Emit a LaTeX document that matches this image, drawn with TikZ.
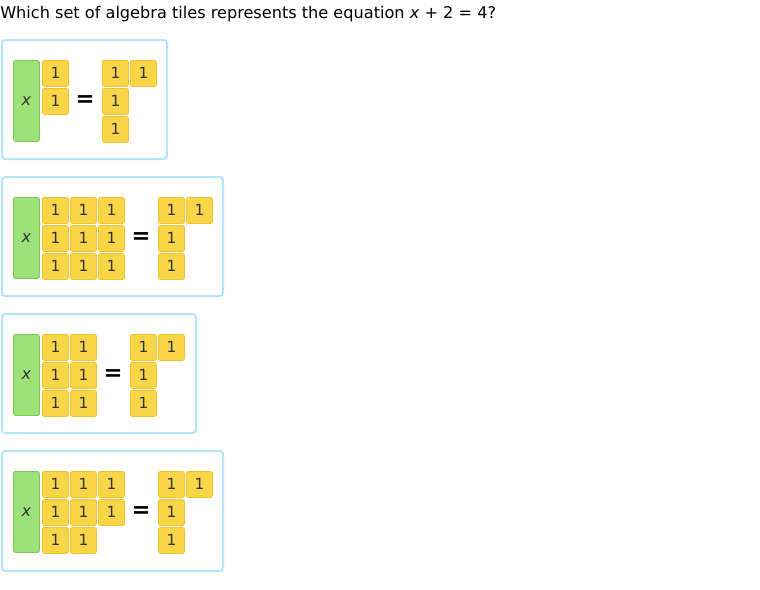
\documentclass[tikz,border=0pt]{standalone}
\usepackage{fontspec}
\setmainfont{DejaVu Sans}
\usetikzlibrary{positioning}
\definecolor{TileYellow}{HTML}{F9D548}
\definecolor{TileEdge}{HTML}{F0C230}
\definecolor{XGreen}{HTML}{9DE179}
\definecolor{XEdge}{HTML}{7CC95A}
\definecolor{PanelBlue}{HTML}{B5E5FA}
\definecolor{Ink}{HTML}{333333}

\begin{document}
\begin{tikzpicture}[
    x=0.75pt, y=-0.75pt,
    panel/.style={draw=PanelBlue, line width=1.5pt, rounded corners=2.5pt},
    unit/.style={
        draw=TileEdge, fill=TileYellow, rounded corners=1.2pt, line width=0.6pt,
        minimum size=19.5pt, inner sep=0pt, anchor=north west,
        font=\fontsize{11.5}{12}\selectfont, text=Ink
    },
    xtile/.style={
        draw=XEdge, fill=XGreen, rounded corners=1.2pt, line width=0.6pt,
        minimum width=19.5pt, minimum height=60.75pt, inner sep=0pt,
        anchor=north west, font=\fontsize{12}{12}\selectfont\itshape, text=Ink
    },
    eqsign/.style={font=\fontsize{17}{18}\selectfont\bfseries, text=black, inner sep=0pt}
]
\useasboundingbox (0,0) rectangle (760,589);

% =============================================
% Question
% =============================================
\node[anchor=base west, inner sep=0pt, font=\fontsize{12.1}{14}\selectfont, text=black]
    (question) at (0,18) {Which set of algebra tiles represents the equation \textit{x} + 2 = 4?};

% =============================================
% Choice 1: x + 2 = 4
% =============================================
\draw[panel] (2,40) rectangle (167,159);
\node[xtile] (xa) at (13,60) {x};
\foreach \r in {0,1}
    \node[unit] (la-\r) at (42,60+28*\r) {1};
\node[eqsign] (eqa) at (85,101) {=};
\node[unit] (ra-1) at (102,60) {1};
\node[unit] (ra-2) at (130,60) {1};
\node[unit] (ra-3) at (102,88) {1};
\node[unit] (ra-4) at (102,116) {1};

% =============================================
% Choice 2: x + 9 = 4
% =============================================
\draw[panel] (2,177) rectangle (223,296);
\node[xtile] (xb) at (13,197) {x};
\foreach \c in {0,1,2}
    \foreach \r in {0,1,2}
        \node[unit] (lb-\c-\r) at (42+28*\c,197+28*\r) {1};
\node[eqsign] (eqb) at (141,238) {=};
\node[unit] (rb-1) at (158,197) {1};
\node[unit] (rb-2) at (186,197) {1};
\node[unit] (rb-3) at (158,225) {1};
\node[unit] (rb-4) at (158,253) {1};

% =============================================
% Choice 3: x + 6 = 4
% =============================================
\draw[panel] (2,314) rectangle (196,433);
\node[xtile] (xc) at (13,334) {x};
\foreach \c in {0,1}
    \foreach \r in {0,1,2}
        \node[unit] (lc-\c-\r) at (42+28*\c,334+28*\r) {1};
\node[eqsign] (eqc) at (113,375) {=};
\node[unit] (rc-1) at (130,334) {1};
\node[unit] (rc-2) at (158,334) {1};
\node[unit] (rc-3) at (130,362) {1};
\node[unit] (rc-4) at (130,390) {1};

% =============================================
% Choice 4: x + 8 = 4
% =============================================
\draw[panel] (2,451) rectangle (223,571);
\node[xtile] (xd) at (13,471) {x};
\foreach \c in {0,1,2}
    \foreach \r in {0,1}
        \node[unit] (ld-\c-\r) at (42+28*\c,471+28*\r) {1};
\node[unit] (ld-0-2) at (42,527) {1};
\node[unit] (ld-1-2) at (70,527) {1};
\node[eqsign] (eqd) at (141,512) {=};
\node[unit] (rd-1) at (158,471) {1};
\node[unit] (rd-2) at (186,471) {1};
\node[unit] (rd-3) at (158,499) {1};
\node[unit] (rd-4) at (158,527) {1};

\end{tikzpicture}
\end{document}
